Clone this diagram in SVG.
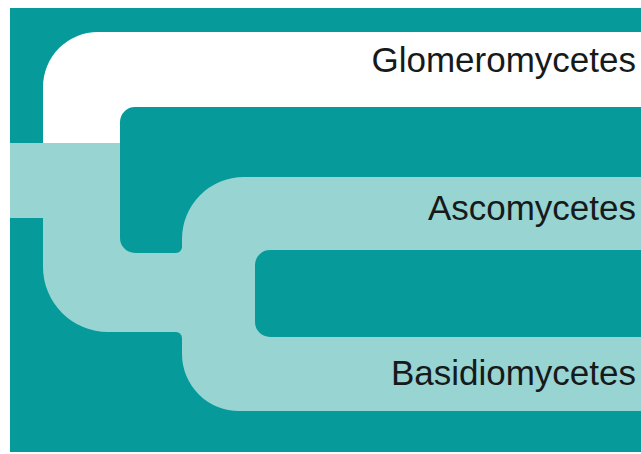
<svg xmlns="http://www.w3.org/2000/svg" width="641" height="454" viewBox="0 0 641 454">
  <style>
    .lbl { font-family: "Liberation Sans", Arial, sans-serif; font-size: 35px; fill: #161a1a; text-anchor: end; }
    .teal { fill: #079a9b; }
    .light { fill: #97d4d2; }
    .white { fill: #ffffff; }
  </style>
  <rect x="0" y="0" width="641" height="454" class="white"/>
  <rect id="background" x="10" y="8" width="631" height="444" class="teal"/>
  <g id="connectors">
    <path id="root-branch" class="light" d="M10,143 H120 V238 A15,15 0 0 0 135,253 H176 A6,6 0 0 0 182,247 V240 A62,62 0 0 1 244,177 H641 V250 H270 A15,15 0 0 0 255,265 V322 A15,15 0 0 0 270,337 H641 V411 H240 A57,57 0 0 1 182,354 V338 A6,6 0 0 0 176,332 H108 A65,65 0 0 1 43,267 V218 H10 Z"/>
    <path id="glomero-branch" class="white" d="M43,143 V87 A55,55 0 0 1 98,32 H641 V107 H135 A15,15 0 0 0 120,122 V143 Z"/>
  </g>
  <g id="node-glomeromycetes">
    <text class="lbl" x="636" y="72">Glomeromycetes</text>
  </g>
  <g id="node-ascomycetes">
    <text class="lbl" x="636" y="220">Ascomycetes</text>
  </g>
  <g id="node-basidiomycetes">
    <text class="lbl" x="636" y="385">Basidiomycetes</text>
  </g>
</svg>
